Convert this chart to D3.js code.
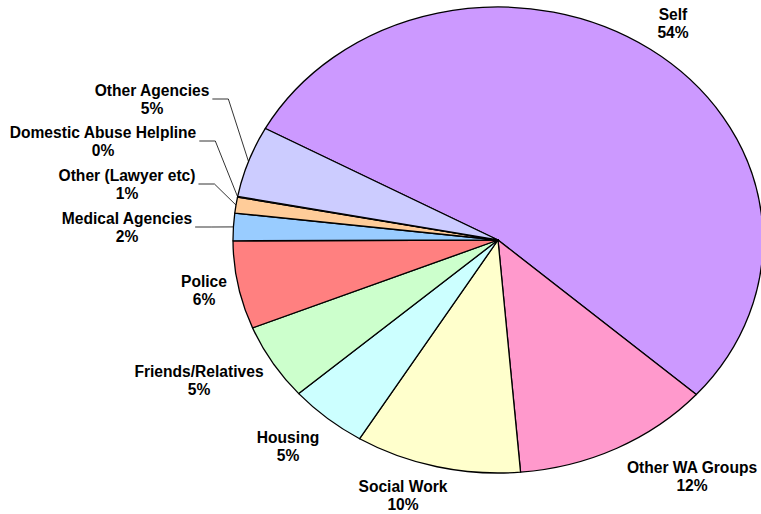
<!DOCTYPE html>
<html><head><meta charset="utf-8">
<script src="https://cdn.jsdelivr.net/npm/d3@7"></script>
<style>body{margin:0;background:#fff}svg{display:block}</style>
</head><body>
<svg id="c" width="761" height="514"></svg>
<script>
const categories = ["Self","Other WA Groups","Social Work","Housing","Friends/Relatives","Police","Medical Agencies","Other (Lawyer etc)","Domestic Abuse Helpline","Other Agencies"];
const values = [53.6,12.1,10.1,4.8,5.3,6.1,1.9,1.1,0.05,4.95];
const colors = ["#CC99FF","#FF99CC","#FFFFCC","#CCFFFF","#CCFFCC","#FF8080","#99CCFF","#FFCC99","#CC99FF","#CCCCFF"];
// label anchor (center x, first-line baseline y), and whether a leader line is drawn
const labelPos = [[673,20],[692,473],[403,492],[288,443],[199,377],[204,287],[127,224],[127,181],[103,138],[152,96]];
const leader = [false,false,false,false,false,false,true,true,true,true];

const svg = d3.select("#c");
const cx = 498, cy = 240, rx = 265, ry = 233;
const total = d3.sum(values);
const startDeg = 298.6;
const fontSize = 15.6;
const pie = d3.pie().sort(null).value(d => d)
  .startAngle(startDeg*Math.PI/180).endAngle((startDeg+360)*Math.PI/180);
const arcs = pie(values);
const arc = d3.arc().innerRadius(0).outerRadius(rx);

const g = svg.append("g").attr("transform", `translate(${cx},${cy}) scale(1,${ry/rx})`);
g.selectAll("path").data(arcs).join("path")
  .attr("d", arc)
  .attr("fill", (d,i) => colors[i])
  .attr("stroke", "#000")
  .attr("stroke-width", 1.3)
  .attr("stroke-linejoin", "round")
  .attr("vector-effect", "non-scaling-stroke");

const fmt = v => Math.round(v/total*100) + "%";

// leader lines
arcs.forEach((d,i) => {
  if (!leader[i]) return;
  const a = (d.startAngle + d.endAngle)/2;
  const ex = cx + Math.sin(a)*rx, ey = cy - Math.cos(a)*ry;
  const [lx, ly] = labelPos[i];
  const tnode = svg.append("text").attr("font-family","Liberation Sans, Arial, sans-serif")
    .attr("font-weight","bold").attr("font-size",fontSize).text(categories[i]);
  const tw = tnode.node().getComputedTextLength();
  tnode.remove();
  const x0 = lx + tw/2 + 3, yl = ly + 3;
  svg.append("path")
    .attr("d", `M${x0},${yl}H${x0+16}L${ex},${ey}`)
    .attr("fill","none").attr("stroke","#000").attr("stroke-width",0.8);
});

const lbl = svg.append("g")
  .attr("font-family","Liberation Sans, Arial, sans-serif")
  .attr("font-weight","bold").attr("font-size",fontSize)
  .attr("text-anchor","middle").attr("fill","#000");
categories.forEach((c,i) => {
  const [x,y] = labelPos[i];
  const t = lbl.append("text").attr("x",x).attr("y",y);
  t.append("tspan").attr("x",x).text(c);
  t.append("tspan").attr("x",x).attr("dy",17.5).text(fmt(values[i]));
});
</script>
</body></html>
